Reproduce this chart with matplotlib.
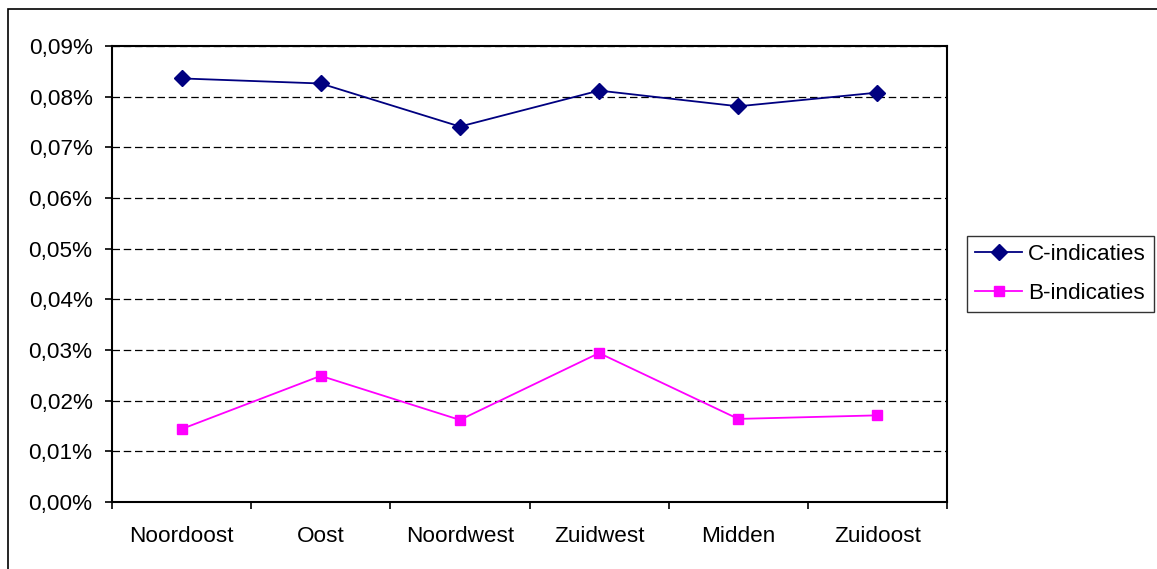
import matplotlib
matplotlib.use("Agg")
import matplotlib.pyplot as plt
from matplotlib.ticker import FuncFormatter, FixedLocator
from matplotlib.patches import Rectangle

regions = ["Noordoost", "Oost", "Noordwest", "Zuidwest", "Midden", "Zuidoost"]
c_indicaties = [0.0836, 0.0826, 0.0741, 0.0812, 0.0781, 0.0808]  # percent
b_indicaties = [0.0144, 0.0249, 0.0162, 0.0294, 0.0164, 0.0171]  # percent
y_ticks = [0.00, 0.01, 0.02, 0.03, 0.04, 0.05, 0.06, 0.07, 0.08, 0.09]

plt.rcParams['font.family'] = ['Liberation Sans', 'DejaVu Sans']

W, H = 1157, 569
fig = plt.figure(figsize=(W / 100, H / 100), dpi=100)
ax = fig.add_axes([112 / W, 1 - 502 / H, (947 - 112) / W, (502 - 46) / H])

x = list(range(len(regions)))
ax.plot(x, c_indicaties, color='#000080', marker='D', markersize=8.5, lw=1.3,
        label='C-indicaties', zorder=3)
ax.plot(x, b_indicaties, color='#FF00FF', marker='s', markersize=7.5, lw=1.3,
        label='B-indicaties', zorder=3)

ax.set_xlim(-0.5, len(regions) - 0.5)
ax.set_ylim(0, 0.09)
ax.set_yticks(y_ticks)
ax.yaxis.set_major_formatter(FuncFormatter(lambda v, p: f"{v:.2f}%".replace('.', ',')))
ax.yaxis.grid(True, color='black', linestyle=(0, (6, 3)), lw=0.9)
ax.set_axisbelow(True)

ax.xaxis.set_major_locator(FixedLocator([i - 0.5 for i in range(len(regions) + 1)]))
ax.xaxis.set_major_formatter(FuncFormatter(lambda v, p: ""))
ax.xaxis.set_minor_locator(FixedLocator(x))
ax.set_xticklabels(regions, minor=True)
ax.tick_params(axis='x', which='major', direction='out', length=5, width=1.2)
ax.tick_params(axis='x', which='minor', length=0, pad=17, labelsize=16.2)
ax.tick_params(axis='y', direction='out', length=5, width=1.2, pad=9, labelsize=16.2)

for s in ax.spines.values():
    s.set_color('black')
    s.set_linewidth(1.5)

leg = fig.legend(loc='upper left', bbox_to_anchor=(967 / W, 1 - 236 / H),
                 frameon=True, fancybox=False, fontsize=16.2, borderaxespad=0,
                 handlelength=2.1, handletextpad=0.25, borderpad=0.35,
                 labelspacing=0.82)
leg.get_frame().set_edgecolor('black')
leg.get_frame().set_linewidth(1.0)

fig.patches.append(Rectangle((8 / W, -0.1), 1.2, 1 - 9 / H + 0.1,
                             transform=fig.transFigure, fill=False,
                             edgecolor='black', lw=1.2))

fig.savefig('out.png', dpi=100)
